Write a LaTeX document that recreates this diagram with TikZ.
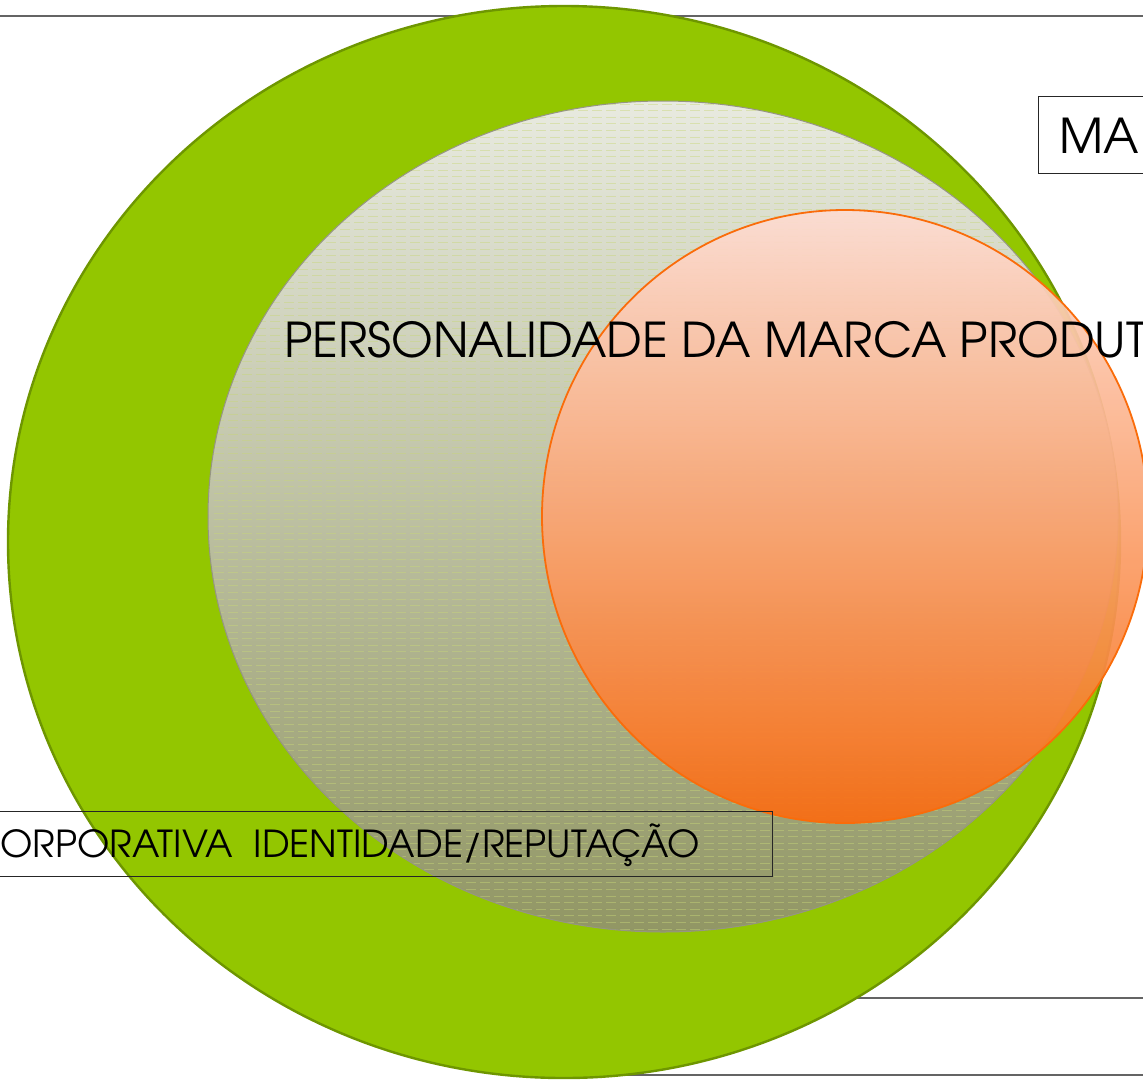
\documentclass[tikz,border=0pt]{standalone}
\usepackage{fontspec}
\setmainfont{TeX Gyre Adventor}
\definecolor{grfill}{RGB}{147,198,0}
\definecolor{grline}{RGB}{110,150,0}
\definecolor{gytop}{RGB}{232,234,224}
\definecolor{gybot}{RGB}{145,150,100}
\definecolor{gyline}{RGB}{150,150,130}
\definecolor{hatch}{RGB}{200,215,120}
\definecolor{ortop}{RGB}{253,220,210}
\definecolor{orbot}{RGB}{249,108,18}
\definecolor{orline}{RGB}{250,108,10}
\definecolor{rule}{RGB}{100,100,100}
\tikzset{
  ruleline/.style={draw=rule, line width=1.4pt},
  labeltext/.style={inner sep=0pt, text=black},
  tbox/.style={draw=black!85, line width=0.9pt}
}
\begin{document}
\begin{tikzpicture}[x=1pt,y=-1pt]
\useasboundingbox (0,0) rectangle (1143,1080);
\clip (0,0) rectangle (1143,1080);
\fill[white] (0,0) rectangle (1143,1080);
% slide rules
\coordinate (t1) at (0,16); \coordinate (t2) at (1143,16);
\coordinate (m1) at (700,998); \coordinate (m2) at (1143,998);
\coordinate (b1) at (520,1075); \coordinate (b2) at (1143,1075);
\draw[ruleline] (t1) -- (t2);
\draw[ruleline] (m1) -- (m2);
\draw[ruleline] (b1) -- (b2);
% green outer ellipse
\draw[fill=grfill, draw=grline, line width=2.4pt] (564,542) ellipse [x radius=556, y radius=536];
% gray ellipse
\shade[top color=gytop, bottom color=gybot] (663,516.5) ellipse [x radius=455, y radius=415.5];
\begin{scope}
  \clip (663,516.5) ellipse [x radius=455, y radius=415.5];
  \foreach \yy in {104,110.6,...,932} {
    \draw[hatch, line width=0.7pt, opacity=0.45, dash pattern=on 10pt off 4pt] (200,\yy) -- (1130,\yy);
  }
\end{scope}
\draw[gyline, line width=1pt] (663,516.5) ellipse [x radius=455, y radius=415.5];
% orange circle
\shade[top color=ortop, bottom color=orbot, fill opacity=0.93] (845,516.5) ellipse [x radius=303, y radius=306.5];
\draw[orline, line width=1.8pt] (845,516.5) ellipse [x radius=303, y radius=306.5];
% texts and boxes
\node[labeltext, anchor=base west, font=\fontsize{48}{52}\selectfont] (pers) at (284,357) {PERSONALIDADE DA MARCA PRODUT};
\node[tbox, minimum width=112pt, minimum height=77pt, anchor=north west] (mabox) at (1038,96) {};
\node[labeltext, anchor=base west, font=\fontsize{48}{52}\selectfont] (ma) at (1059,153) {MA};
\node[tbox, minimum width=790pt, minimum height=65pt, anchor=north east] (corpbox) at (773,811) {};
\node[labeltext, anchor=base east, font=\fontsize{37.2}{40}\selectfont] (corp) at (700,857) {ORPORATIVA\ \ IDENTIDADE/REPUTAÇÃO};
\end{tikzpicture}
\end{document}
